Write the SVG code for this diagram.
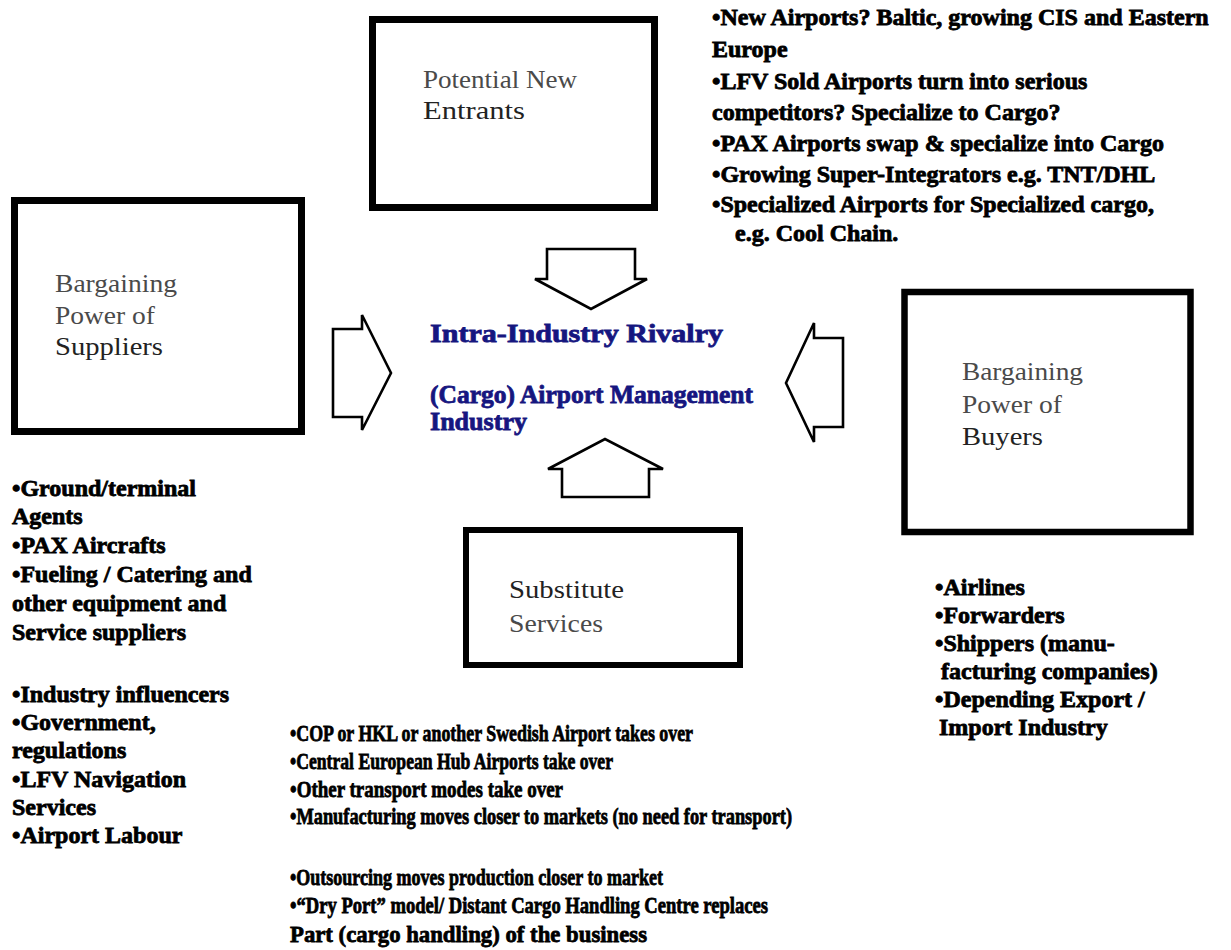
<svg xmlns="http://www.w3.org/2000/svg" width="1231" height="950" viewBox="0 0 1231 950">
<style>
.box{fill:#fff;stroke:#000;stroke-width:7}
.arr{fill:#fff;stroke:#000;stroke-width:2.6;stroke-linejoin:miter}
.lbl{font-family:"Liberation Serif","Times New Roman",serif;font-size:25px;fill:#4a4a4a}
.lbl .dk{fill:#222}
.bt{font-family:"Liberation Serif","Times New Roman",serif;font-size:24px;font-weight:bold;fill:#000;stroke:#000;stroke-width:0.8}
.bs{font-family:"Liberation Serif","Times New Roman",serif;font-size:24px;font-weight:bold;fill:#000;stroke:#000;stroke-width:0.8}
.ct{font-family:"Liberation Serif","Times New Roman",serif;font-size:26px;font-weight:bold;fill:#16167f;stroke:#16167f;stroke-width:0.8}
</style>
<rect width="1231" height="950" fill="#fff"/>
<g id="connectors">
<polygon class="arr" points="547,249 635,249 635,279 647,279 591,309 535,279 547,279"/>
<polygon class="arr" points="562,497 649,497 649,469 663,469 605,439 548,469 562,469"/>
<polygon class="arr" points="333,329 362,329 362,315 391,373 362,430 362,417 333,417"/>
<polygon class="arr" points="843,338 814,338 814,323 786,383 814,442 814,427 843,427"/>
</g>
<g id="node-entrants">
<rect class="box" x="372.5" y="19.5" width="282" height="188"/>
<text class="lbl" lengthAdjust="spacingAndGlyphs"><tspan x="423" y="88" textLength="154" lengthAdjust="spacingAndGlyphs">Potential New</tspan><tspan class="dk" x="423" y="119" textLength="102" lengthAdjust="spacingAndGlyphs">Entrants</tspan></text>
</g>
<g id="node-suppliers">
<rect class="box" x="14.5" y="200.5" width="287" height="231"/>
<text class="lbl"><tspan x="55" y="292" textLength="122" lengthAdjust="spacingAndGlyphs">Bargaining</tspan><tspan x="55" y="324" textLength="100" lengthAdjust="spacingAndGlyphs">Power of</tspan><tspan class="dk" x="55" y="355" textLength="108" lengthAdjust="spacingAndGlyphs">Suppliers</tspan></text>
</g>
<g id="node-buyers">
<rect class="box" x="904.5" y="292" width="286" height="240" style="stroke-width:6.5"/>
<text class="lbl"><tspan x="962" y="380" textLength="121" lengthAdjust="spacingAndGlyphs">Bargaining</tspan><tspan x="962" y="413" textLength="100" lengthAdjust="spacingAndGlyphs">Power of</tspan><tspan class="dk" x="962" y="445" textLength="81" lengthAdjust="spacingAndGlyphs">Buyers</tspan></text>
</g>
<g id="node-substitutes">
<rect class="box" x="466" y="530" width="274" height="135" style="stroke-width:6"/>
<text class="lbl"><tspan class="dk" x="509" y="598" textLength="115" lengthAdjust="spacingAndGlyphs">Substitute</tspan><tspan x="509" y="632" textLength="94" lengthAdjust="spacingAndGlyphs">Services</tspan></text>
</g>
<g id="node-rivalry">
<text class="ct"><tspan x="430" y="342" textLength="293" lengthAdjust="spacingAndGlyphs">Intra-Industry Rivalry</tspan><tspan x="430" y="403" textLength="323" lengthAdjust="spacingAndGlyphs">(Cargo) Airport Management</tspan><tspan x="430" y="430" textLength="97" lengthAdjust="spacingAndGlyphs">Industry</tspan></text>
</g>
<g id="notes-entrants">
<text class="bt"><tspan x="712" y="25">•New Airports? Baltic, growing CIS and Eastern</tspan><tspan x="712" y="57">Europe</tspan><tspan x="712" y="89">•LFV Sold Airports turn into serious</tspan><tspan x="712" y="120">competitors? Specialize to Cargo?</tspan><tspan x="712" y="151">•PAX Airports swap &amp; specialize into Cargo</tspan><tspan x="712" y="182">•Growing Super-Integrators  e.g. TNT/DHL</tspan><tspan x="712" y="212">•Specialized Airports for Specialized cargo,</tspan><tspan x="735" y="241">e.g. Cool Chain.</tspan></text>
</g>
<g id="notes-suppliers">
<text class="bt"><tspan x="12" y="496">•Ground/terminal</tspan><tspan x="12" y="524">Agents</tspan><tspan x="12" y="553">•PAX Aircrafts</tspan><tspan x="12" y="582">•Fueling / Catering and</tspan><tspan x="12" y="611">other equipment and</tspan><tspan x="12" y="640">Service suppliers</tspan><tspan x="12" y="702">•Industry influencers</tspan><tspan x="12" y="730">•Government,</tspan><tspan x="12" y="758">regulations</tspan><tspan x="12" y="787">•LFV Navigation</tspan><tspan x="12" y="815">Services</tspan><tspan x="12" y="843">•Airport Labour</tspan></text>
</g>
<g id="notes-buyers">
<text class="bt"><tspan x="935" y="595">•Airlines</tspan><tspan x="935" y="623">•Forwarders</tspan><tspan x="935" y="651">•Shippers (manu-</tspan><tspan x="941" y="679">facturing companies)</tspan><tspan x="935" y="707">•Depending Export /</tspan><tspan x="939" y="735">Import Industry</tspan></text>
</g>
<g id="notes-substitutes">
<text class="bs"><tspan x="290" y="741" textLength="403" lengthAdjust="spacingAndGlyphs">•COP or HKL or another Swedish Airport takes over</tspan><tspan x="290" y="769" textLength="323" lengthAdjust="spacingAndGlyphs">•Central European Hub Airports take over</tspan><tspan x="290" y="797" textLength="273" lengthAdjust="spacingAndGlyphs">•Other  transport modes take over</tspan><tspan x="290" y="824" textLength="502" lengthAdjust="spacingAndGlyphs">•Manufacturing moves closer to markets (no need for  transport)</tspan><tspan x="290" y="885" textLength="373" lengthAdjust="spacingAndGlyphs">•Outsourcing moves production closer to market</tspan><tspan x="290" y="913" textLength="478" lengthAdjust="spacingAndGlyphs">•“Dry Port” model/ Distant Cargo Handling Centre replaces</tspan><tspan x="290" y="942" textLength="357" lengthAdjust="spacingAndGlyphs">Part (cargo handling) of the business</tspan></text>
</g>
</svg>
